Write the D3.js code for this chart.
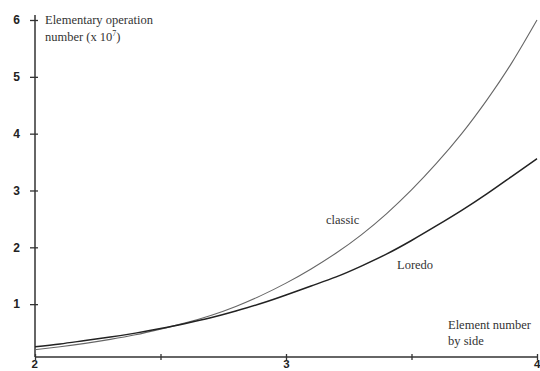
<!DOCTYPE html>
<html><head><meta charset="utf-8">
<script src="https://cdn.jsdelivr.net/npm/d3@7"></script>
<style>
html,body{margin:0;padding:0;background:#fff;}
svg{display:block;}
</style></head>
<body>
<svg id="chart" width="540" height="371"></svg>
<script>
const xValues = [2.0,2.1,2.2,2.3,2.4,2.5,2.6,2.7,2.8,2.9,3.0,3.1,3.2,3.3,3.4,3.5,3.6,3.7,3.8,3.9,4.0];
const classicValues = [0.20,0.25,0.31,0.38,0.46,0.56,0.67,0.80,0.96,1.15,1.37,1.62,1.90,2.22,2.59,3.01,3.48,4.00,4.59,5.25,6.00];
const loredoValues = [0.25,0.30,0.36,0.42,0.49,0.57,0.66,0.76,0.88,1.01,1.16,1.32,1.48,1.67,1.88,2.12,2.38,2.65,2.94,3.25,3.56];
const yTicks = [1,2,3,4,5,6];
const xTicks = [2,2.5,3,3.5,4];
const xTickLabels = ["2","","3","","4"];

const svg = d3.select("#chart");
const x = d3.scaleLinear().domain([2,4]).range([35,537]);
const y = d3.scaleLinear().domain([0.07,6]).range([357,20]);
const axisColor = "#333";

// Y axis
const yAxis = svg.append("g").attr("transform", `translate(${x(2)},0)`)
  .call(d3.axisLeft(y).tickValues(yTicks).tickFormat(d3.format("d")).tickSize(5).tickPadding(10));
yAxis.select(".domain").remove();
yAxis.append("line").attr("x1",0).attr("x2",0).attr("y1",15).attr("y2",357)
  .attr("stroke",axisColor).attr("stroke-width",1.5);
yAxis.selectAll(".tick line").attr("x1",3).attr("x2",-5).attr("stroke",axisColor).attr("stroke-width",1.3);
yAxis.selectAll(".tick text").attr("fill","#222").style("font-family","'Liberation Sans', Arial, sans-serif")
  .style("font-size","12px").style("font-weight","bold");

// X axis
const xAxis = svg.append("g").attr("transform", `translate(0,357)`)
  .call(d3.axisBottom(x).tickValues(xTicks).tickFormat((d,i)=>xTickLabels[i]).tickSize(3).tickPadding(1));
xAxis.select(".domain").remove();
xAxis.append("line").attr("x1",x(2)).attr("x2",x(4)).attr("y1",0).attr("y2",0)
  .attr("stroke",axisColor).attr("stroke-width",1.5);
xAxis.selectAll(".tick line").attr("y1",-3).attr("y2",3).attr("stroke",axisColor).attr("stroke-width",1.3);
xAxis.selectAll(".tick text").attr("fill","#222").attr("dy","0.6em")
  .style("font-family","'Liberation Sans', Arial, sans-serif")
  .style("font-size","11.5px").style("font-weight","bold")
  .attr("text-anchor",(d,i)=> i===xTicks.length-1 ? "end" : (i===0 ? "start" : "middle"))
  .attr("dx",(d,i)=> i===xTicks.length-1 ? 3 : (i===0 ? -4 : 0));

// Curves
const line = d3.line().x((d,i)=>x(xValues[i])).y(d=>y(d)).curve(d3.curveNatural);
svg.append("path").datum(classicValues).attr("d",line).attr("fill","none")
  .attr("stroke","#666").attr("stroke-width",1.1);
svg.append("path").datum(loredoValues).attr("d",line).attr("fill","none")
  .attr("stroke","#222").attr("stroke-width",1.5);

// Text labels
const serif = "'Liberation Serif', 'Times New Roman', serif";
function label(tx, ty, s){
  return svg.append("text").attr("x",tx).attr("y",ty).attr("fill","#333")
    .style("font-family",serif).style("font-size","12.5px").text(s);
}
label(45,24,"Elementary operation");
const t2 = label(45,41,"number (x 10");
t2.append("tspan").attr("dy",-5).style("font-size","8px").text("7");
t2.append("tspan").attr("dy",5).text(")");
label(326,224,"classic");
label(397,269,"Loredo");
label(448,329,"Element number");
label(448,345,"by side");
</script>
</body></html>
